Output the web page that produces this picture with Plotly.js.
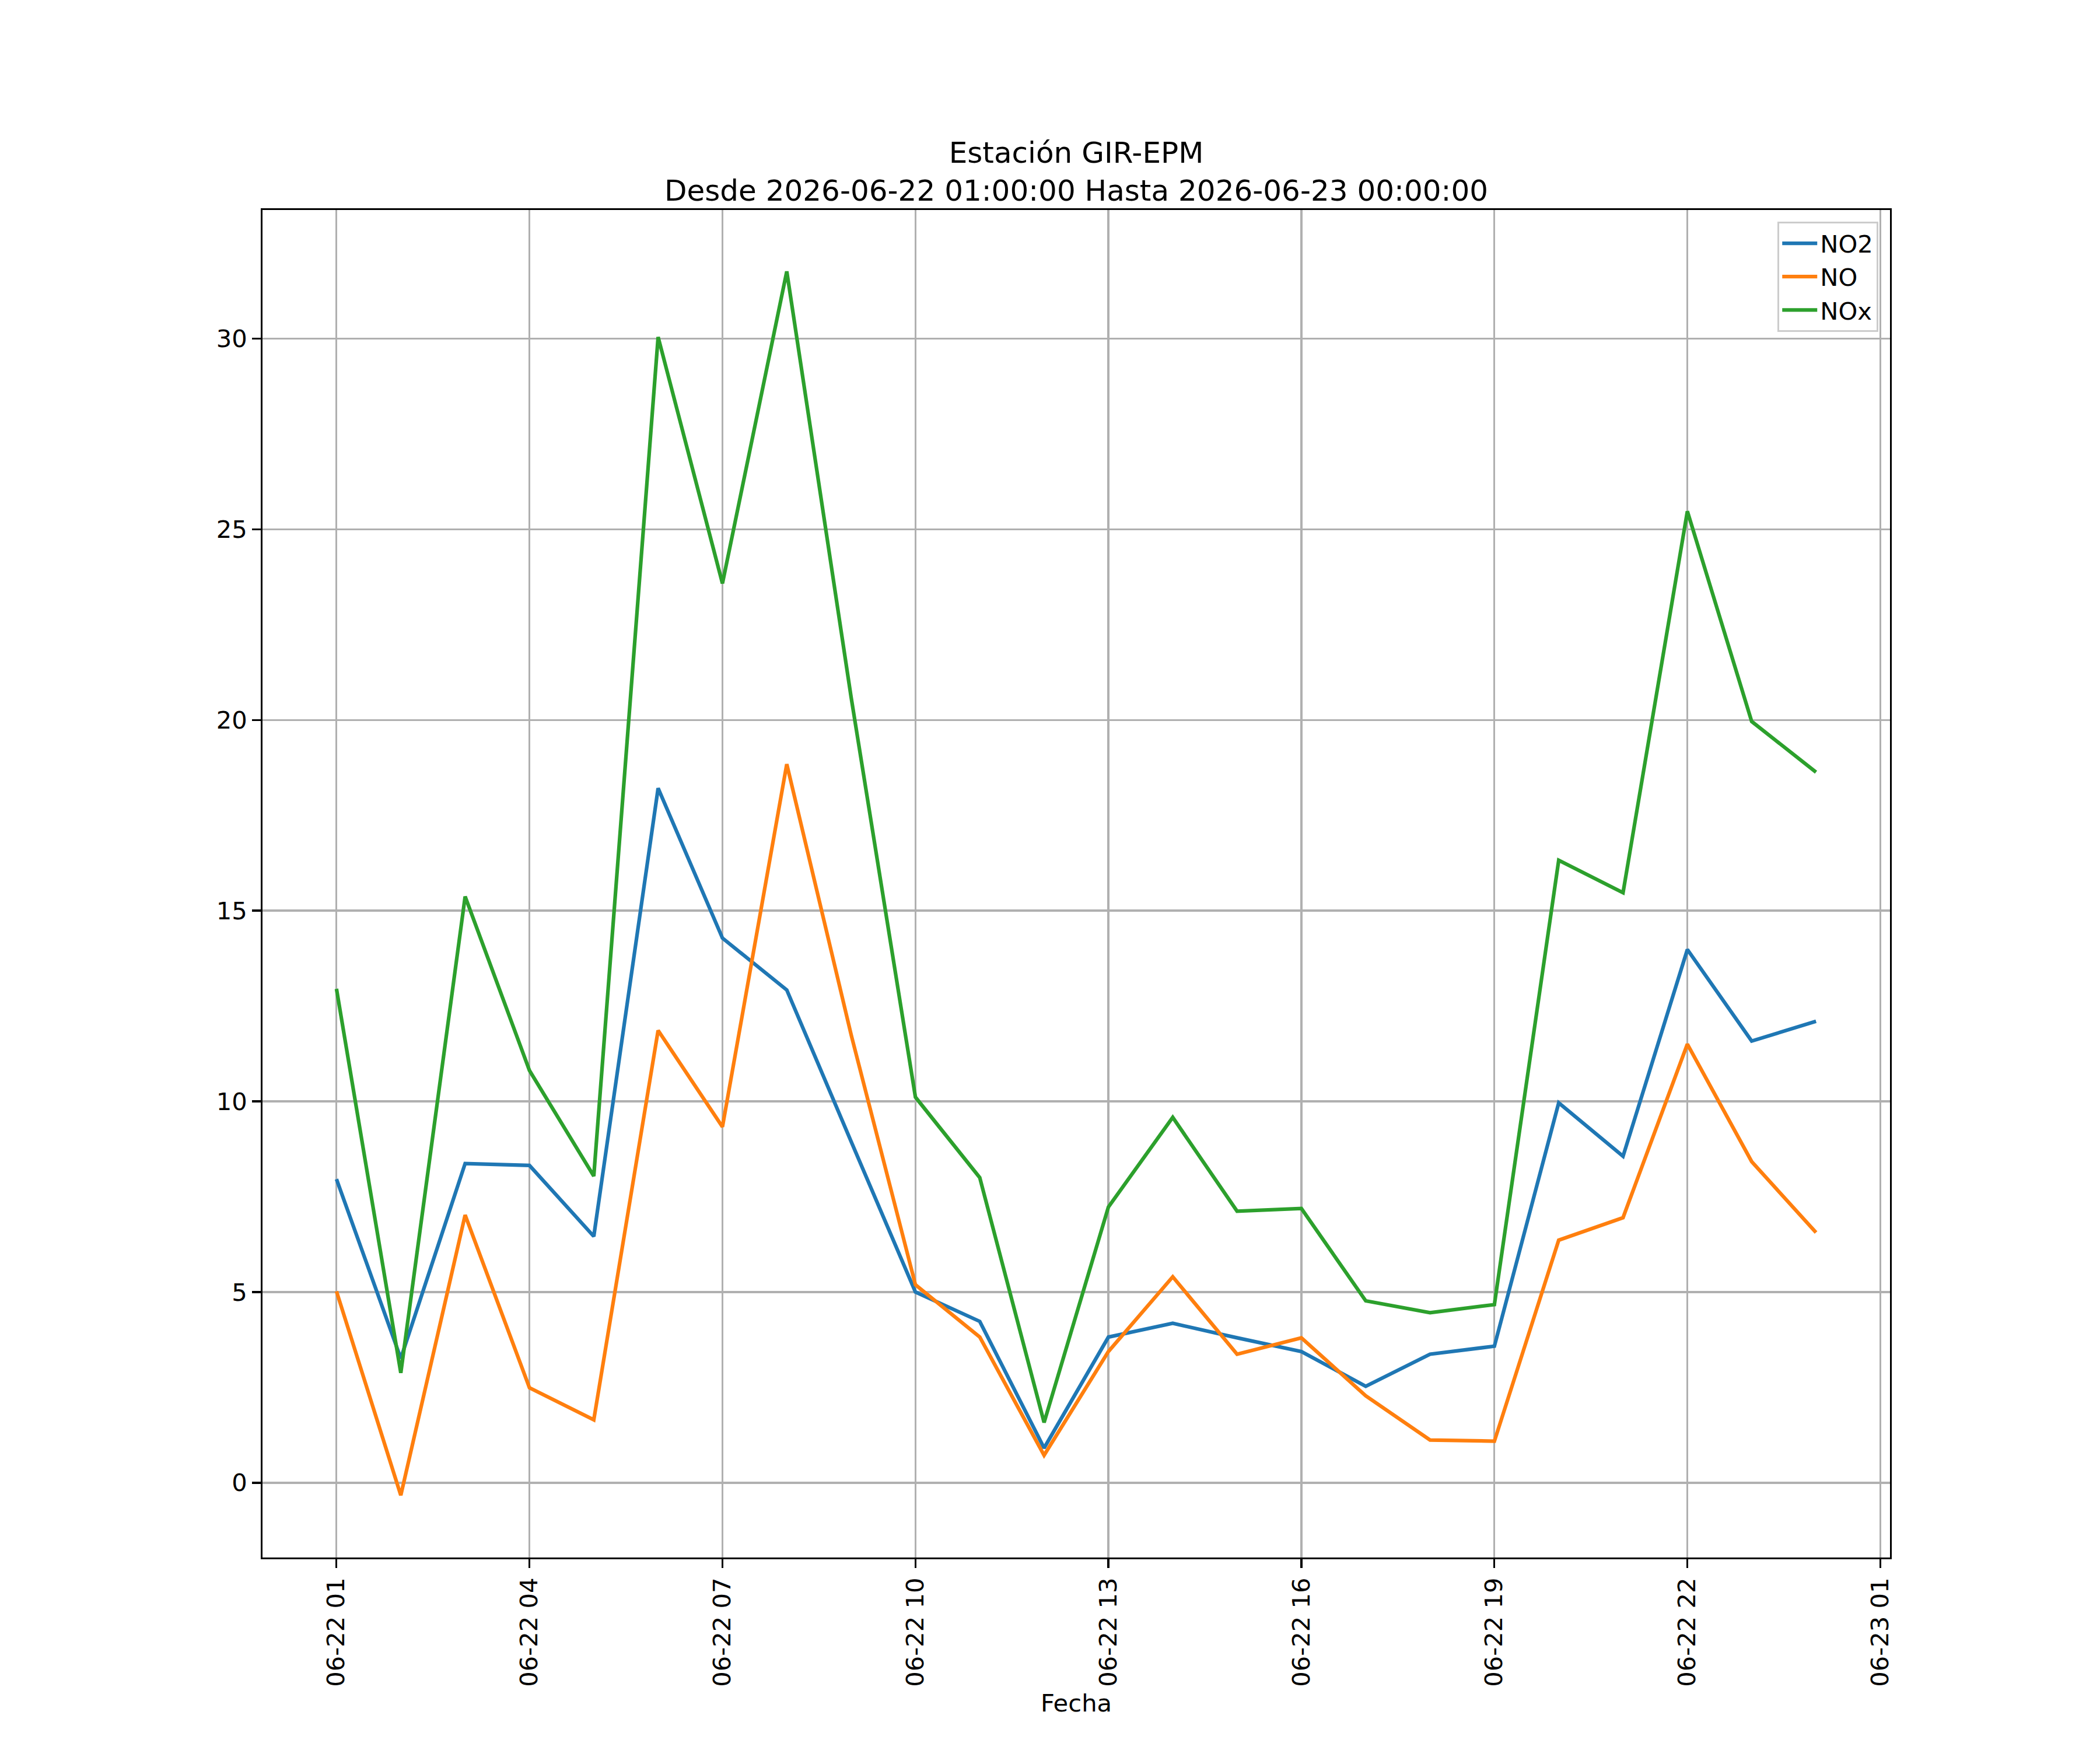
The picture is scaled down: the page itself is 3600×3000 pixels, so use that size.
<!DOCTYPE html>
<html>
<head>
<meta charset="utf-8">
<script src="https://cdn.plot.ly/plotly-3.0.1.min.js"></script>
<style>
  html, body { margin: 0; padding: 0; background: #ffffff; }
  #chart { width: 3600px; height: 3000px; }
</style>
</head>
<body>
<div id="chart"></div>
<script>
  "use strict";

  // hourly timestamps, 01:00 to 00:00 next day
  var FECHAS = [
    "2026-06-22 01:00", "2026-06-22 02:00", "2026-06-22 03:00", "2026-06-22 04:00",
    "2026-06-22 05:00", "2026-06-22 06:00", "2026-06-22 07:00", "2026-06-22 08:00",
    "2026-06-22 09:00", "2026-06-22 10:00", "2026-06-22 11:00", "2026-06-22 12:00",
    "2026-06-22 13:00", "2026-06-22 14:00", "2026-06-22 15:00", "2026-06-22 16:00",
    "2026-06-22 17:00", "2026-06-22 18:00", "2026-06-22 19:00", "2026-06-22 20:00",
    "2026-06-22 21:00", "2026-06-22 22:00", "2026-06-22 23:00", "2026-06-23 00:00"
  ];

  var NO2 = [
    7.96, 3.26, 8.37, 8.32, 6.46, 18.21, 14.28, 12.92,
    8.95, 5.0, 4.23, 0.91, 3.82, 4.18, 3.8, 3.44,
    2.53, 3.37, 3.58, 9.96, 8.56, 13.98, 11.58, 12.1
  ];

  var NO = [
    5.02, -0.33, 7.02, 2.49, 1.65, 11.86, 9.33, 18.84,
    11.75, 5.19, 3.82, 0.72, 3.44, 5.40, 3.37, 3.8,
    2.28, 1.12, 1.09, 6.36, 6.95, 11.5, 8.42, 6.56
  ];

  var NOX = [
    12.95, 2.88, 15.37, 10.81, 8.04, 30.04, 23.58, 31.76,
    20.6, 10.11, 8.0, 1.58, 7.23, 9.58, 7.12, 7.19,
    4.77, 4.46, 4.67, 16.32, 15.47, 25.47, 19.96, 18.63
  ];

  var SERIES = [
    { name: "NO2", values: NO2, color: "#1f77b4" },
    { name: "NO", values: NO, color: "#ff7f0e" },
    { name: "NOx", values: NOX, color: "#2ca02c" }
  ];

  var PX = 300 / 72;          // points -> pixels at 300 dpi
  var FONT_SIZE = 10 * PX;
  var FONT = { family: "DejaVu Sans", size: FONT_SIZE, color: "#000000" };
  var TITLE_FONT = { family: "DejaVu Sans", size: 12 * PX, color: "#000000" };

  var traces = SERIES.map(function (s) {
    return {
      type: "scatter",
      mode: "lines",
      name: s.name,
      x: FECHAS,
      y: s.values,
      line: { color: s.color, width: 1.5 * PX }
    };
  });

  var axisBase = {
    showline: true,
    mirror: true,
    linecolor: "#000000",
    linewidth: 0.8 * PX,
    showgrid: true,
    gridcolor: "#b0b0b0",
    gridwidth: 0.8 * PX,
    zeroline: false,
    ticks: "outside",
    ticklen: 3.5 * PX,
    tickwidth: 0.8 * PX,
    tickcolor: "#000000",
    tickfont: FONT,
    automargin: false
  };

  var layout = {
    width: 3600,
    height: 3000,
    paper_bgcolor: "#ffffff",
    plot_bgcolor: "#ffffff",
    font: FONT,
    margin: { l: 450, r: 360, t: 360, b: 330, pad: 0 },
    title: {
      text: "Estación GIR-EPM<br>Desde 2026-06-22 01:00:00 Hasta 2026-06-23 00:00:00",
      font: TITLE_FONT,
      xref: "paper",
      x: 0.5,
      xanchor: "center",
      yref: "container",
      y: 0.907,
      yanchor: "top"
    },
    xaxis: Object.assign({}, axisBase, {
      type: "date",
      range: ["2026-06-21 23:51:00", "2026-06-23 01:09:00"],
      tick0: "2026-06-22 01:00",
      dtick: 3 * 3600 * 1000,
      tickformat: "%m-%d %H",
      tickangle: -90,
      ticklabelstandoff: 3.5 * PX,
      title: { text: "Fecha", font: FONT, standoff: 3.5 * PX }
    }),
    yaxis: Object.assign({}, axisBase, {
      range: [-1.96, 33.37],
      tick0: 0,
      dtick: 5,
      ticklabelstandoff: 3.5 * PX
    }),
    showlegend: true,
    legend: {
      x: 0.9928,
      xanchor: "right",
      y: 0.9913,
      yanchor: "top",
      bgcolor: "rgba(255,255,255,0.8)",
      bordercolor: "#cccccc",
      borderwidth: 0.8 * PX,
      font: FONT,
      tracegroupgap: 0,
      itemwidth: 60
    }
  };

  Plotly.newPlot("chart", traces, layout, { displayModeBar: false, staticPlot: true });
</script>
</body>
</html>
